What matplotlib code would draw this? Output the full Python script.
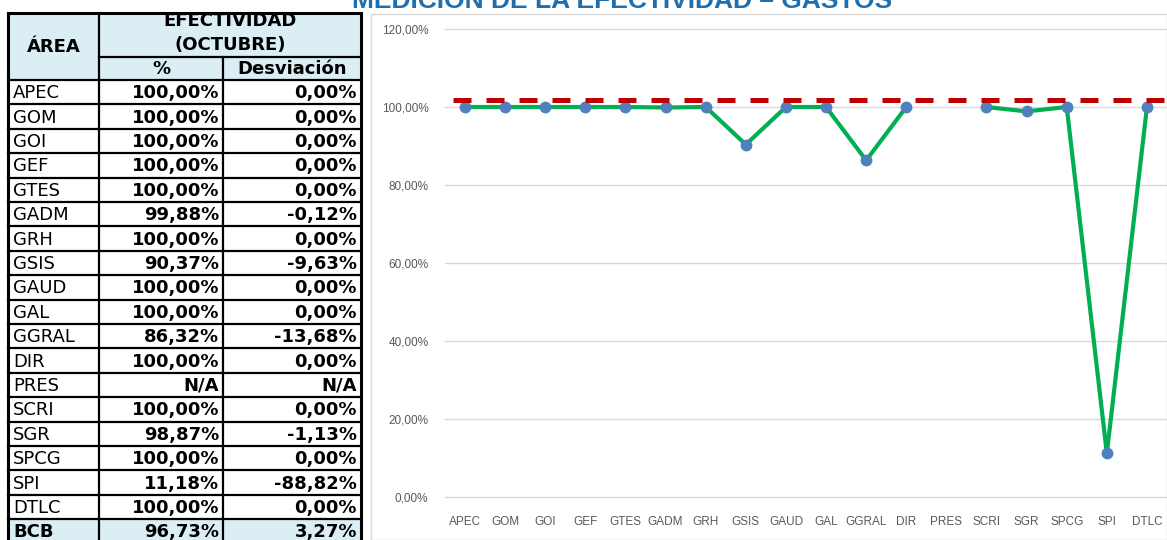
import numpy as np
import matplotlib
matplotlib.use("Agg")
import matplotlib.pyplot as plt
from matplotlib.patches import Rectangle

# datos
areas = ["APEC", "GOM", "GOI", "GEF", "GTES", "GADM", "GRH", "GSIS", "GAUD",
         "GAL", "GGRAL", "DIR", "PRES", "SCRI", "SGR", "SPCG", "SPI", "DTLC"]
efectividad = [100.00, 100.00, 100.00, 100.00, 100.00, 99.88, 100.00, 90.37, 100.00,
               100.00, 86.32, 100.00, np.nan, 100.00, 98.87, 100.00, 11.18, 100.00]
desviacion = [0.00, 0.00, 0.00, 0.00, 0.00, -0.12, 0.00, -9.63, 0.00,
              0.00, -13.68, 0.00, np.nan, 0.00, -1.13, 0.00, -88.82, 0.00]
total_area = "BCB"
total_efectividad = 96.73
total_desviacion = 3.27
meta = 101.7
yticks = [0, 20, 40, 60, 80, 100, 120]

titulo = "MEDICIÓN DE LA EFECTIVIDAD – GASTOS"


def fmt(v):
    if np.isnan(v):
        return "N/A"
    return f"{v:.2f}".replace(".", ",") + "%"


W, H = 1167, 540
fig = plt.figure(figsize=(W / 100, H / 100), dpi=100)

# fondo en pixeles para la tabla y el marco
bg = fig.add_axes([0, 0, 1, 1])
bg.set_xlim(0, W)
bg.set_ylim(H, 0)
bg.axis("off")

celeste = "#DAEEF3"
xs = [8, 99, 223, 361]
y_top, y_mid, y_head = 13, 57, 80
row_h = 24.4
n_rows = len(areas) + 1
y_bot = y_head + n_rows * row_h

# fondos celestes
bg.add_patch(Rectangle((xs[0], y_top), xs[3] - xs[0], y_head - y_top, color=celeste, lw=0))
bg.add_patch(Rectangle((xs[0], y_head + len(areas) * row_h), xs[3] - xs[0], row_h,
                       color=celeste, lw=0))

# bordes
lw = 1.6
bg.plot([xs[0], xs[3], xs[3], xs[0], xs[0]], [y_top, y_top, y_bot, y_bot, y_top],
        color="black", lw=2.2, solid_joinstyle="miter")
bg.plot([xs[1], xs[1]], [y_top, y_bot], color="black", lw=lw)
bg.plot([xs[2], xs[2]], [y_mid, y_bot], color="black", lw=lw)
bg.plot([xs[1], xs[3]], [y_mid, y_mid], color="black", lw=lw)
for i in range(n_rows):
    y = y_head + i * row_h
    bg.plot([xs[0], xs[3]], [y, y], color="black", lw=lw)

fs = 13
bg.text((xs[0] + xs[1]) / 2, (y_top + y_head) / 2 + 1, "ÁREA", ha="center", va="center",
        fontsize=fs, fontweight="bold")
bg.text((xs[1] + xs[3]) / 2, 21, "EFECTIVIDAD", ha="center", va="center",
        fontsize=fs, fontweight="bold")
bg.text((xs[1] + xs[3]) / 2, 45, "(OCTUBRE)", ha="center", va="center",
        fontsize=fs, fontweight="bold")
bg.text((xs[1] + xs[2]) / 2, (y_mid + y_head) / 2 + 1, "%", ha="center", va="center",
        fontsize=fs, fontweight="bold")
bg.text((xs[2] + xs[3]) / 2, (y_mid + y_head) / 2 + 1, "Desviación", ha="center", va="center",
        fontsize=fs, fontweight="bold")

filas = list(zip(areas, efectividad, desviacion)) + [(total_area, total_efectividad, total_desviacion)]
for i, (a, e, d) in enumerate(filas):
    yc = y_head + (i + 0.5) * row_h + 1
    bold = "bold" if a == total_area else "normal"
    bg.text(xs[0] + 5, yc, a, ha="left", va="center", fontsize=fs, fontweight=bold)
    bg.text(xs[2] - 4, yc, fmt(e), ha="right", va="center", fontsize=fs, fontweight="bold")
    bg.text(xs[3] - 4, yc, fmt(d), ha="right", va="center", fontsize=fs, fontweight="bold")

# marco del grafico
bg.add_patch(Rectangle((371, 14), W - 371, H - 14, fill=False, ec="#D9D9D9", lw=1))

# titulo (cortado arriba como en el original)
fig.text(622 / W, 1 - 8 / H, titulo, ha="center", va="baseline", fontsize=19,
         fontweight="bold", color="#1F6FAE", family=["Liberation Sans", "DejaVu Sans"])

# grafico
ax = fig.add_axes([445 / W, 43 / H, (W - 445) / W, (497 - 29) / H])
ax.set_facecolor("none")
x = np.arange(len(areas))
ax.plot(x, efectividad, color="#00B050", lw=3, marker="o", markersize=7.5,
        markerfacecolor="#4F81BD", markeredgecolor="#4F81BD", zorder=3)
ax.axhline(meta, xmin=0.011, xmax=1, color="#C00000", lw=3.6,
           dashes=(3.6, 3.0), solid_capstyle="butt", zorder=4)
ax.set_xlim(-0.5, len(areas) - 0.5)
ax.set_ylim(0, 120)
ax.set_yticks(yticks)
ax.set_yticklabels([f"{v:.2f}".replace(".", ",") + "%" for v in yticks])
ax.set_xticks(x)
ax.set_xticklabels(areas)
ax.grid(axis="y", color="#D9D9D9", lw=1, clip_on=False)
ax.set_axisbelow(True)
for s in ax.spines.values():
    s.set_visible(False)
ax.tick_params(axis="both", length=0, colors="#595959", labelsize=8.5)
ax.tick_params(axis="y", pad=12)
ax.tick_params(axis="x", pad=14)
for lab in ax.get_xticklabels() + ax.get_yticklabels():
    lab.set_family(["Liberation Sans", "DejaVu Sans"])

fig.savefig("out.png", dpi=100)
